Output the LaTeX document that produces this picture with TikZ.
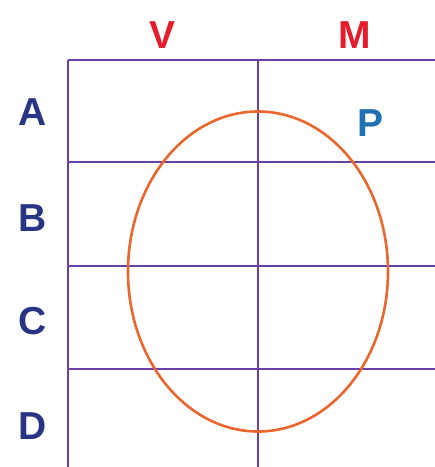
\documentclass[tikz,border=0pt]{standalone}
\usepackage{fontspec}
\setmainfont{Liberation Sans}
\usepackage{xcolor}
\usepackage{tikz}
\usetikzlibrary{positioning, shapes.geometric}

\definecolor{gridpurple}{RGB}{104,64,168}
\definecolor{colred}{RGB}{228,28,44}
\definecolor{rowblue}{RGB}{40,52,132}
\definecolor{pblue}{RGB}{32,112,178}
\definecolor{ringorange}{RGB}{234,102,44}

\begin{document}
\begin{tikzpicture}[
    x=1pt, y=-1pt,
    % Gaya garis tabel
    grid_line/.style={
        draw=gridpurple,
        line width=2.6pt
    },
    % Gaya label kolom dan baris
    col_label/.style={
        text=colred,
        font=\fontsize{39}{40}\selectfont\bfseries,
        inner sep=0pt
    },
    row_label/.style={
        text=rowblue,
        font=\fontsize{39}{40}\selectfont\bfseries,
        inner sep=0pt
    },
    % Gaya elips
    ring/.style={
        draw=ringorange,
        line width=2.6pt,
        ellipse,
        minimum width=260pt,
        minimum height=320pt,
        inner sep=0pt
    }
]
\useasboundingbox (0,0) rectangle (435,467);

% =====================================================================
% GARIS TABEL
% =====================================================================
\foreach \ypos in {60,162,266,369}
    \draw [grid_line] (68,\ypos) -- (440,\ypos);
\draw [grid_line] (68,60) -- (68,470);
\draw [grid_line] (258,60) -- (258,470);

% =====================================================================
% LABEL
% =====================================================================
\node (V) [col_label] at (163,35) {V};
\node (M) [col_label] at (355,35) {M};
\node (A) [row_label] at (33,112) {A};
\node (B) [row_label] at (33,218) {B};
\node (C) [row_label] at (33,321) {C};
\node (D) [row_label] at (33,426) {D};
\node (P) [col_label, text=pblue] at (371,123) {P};

% =====================================================================
% ELIPS
% =====================================================================
\node (ring) [ring] at (258,271.5) {};

\end{tikzpicture}
\end{document}
